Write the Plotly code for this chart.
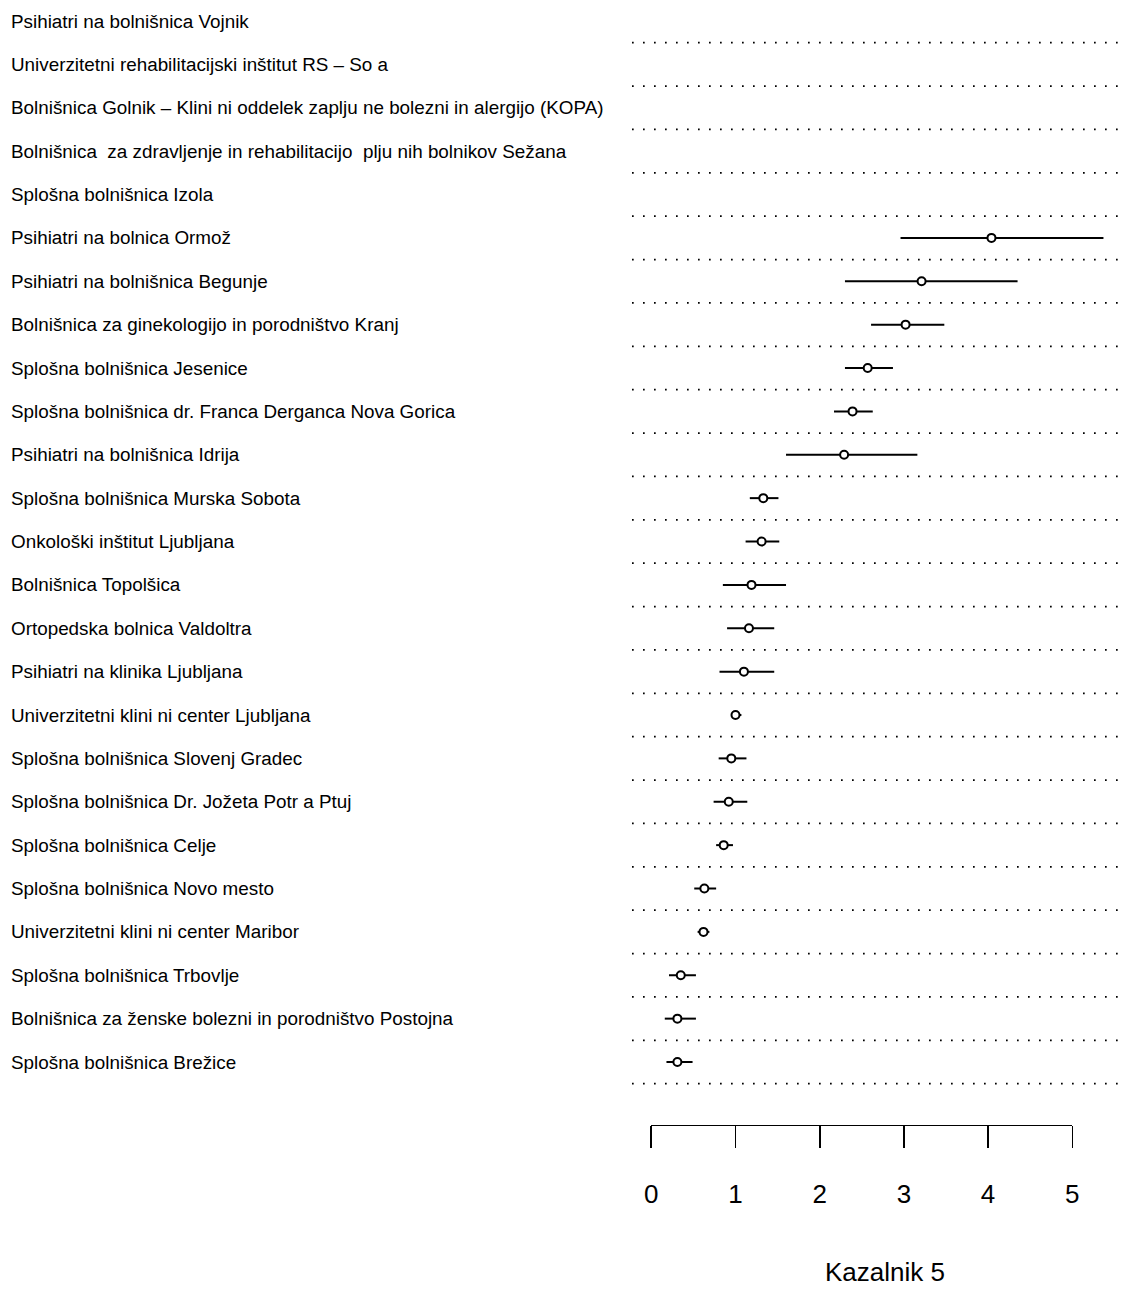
import plotly.graph_objects as go

# ---- data (top to bottom) ----
hospitals = [
    "Psihiatri na bolnišnica Vojnik",
    "Univerzitetni rehabilitacijski inštitut RS – So a",
    "Bolnišnica Golnik – Klini ni oddelek zaplju ne bolezni in alergijo (KOPA)",
    "Bolnišnica  za zdravljenje in rehabilitacijo  plju nih bolnikov Sežana",
    "Splošna bolnišnica Izola",
    "Psihiatri na bolnica Ormož",
    "Psihiatri na bolnišnica Begunje",
    "Bolnišnica za ginekologijo in porodništvo Kranj",
    "Splošna bolnišnica Jesenice",
    "Splošna bolnišnica dr. Franca Derganca Nova Gorica",
    "Psihiatri na bolnišnica Idrija",
    "Splošna bolnišnica Murska Sobota",
    "Onkološki inštitut Ljubljana",
    "Bolnišnica Topolšica",
    "Ortopedska bolnica Valdoltra",
    "Psihiatri na klinika Ljubljana",
    "Univerzitetni klini ni center Ljubljana",
    "Splošna bolnišnica Slovenj Gradec",
    "Splošna bolnišnica Dr. Jožeta Potr a Ptuj",
    "Splošna bolnišnica Celje",
    "Splošna bolnišnica Novo mesto",
    "Univerzitetni klini ni center Maribor",
    "Splošna bolnišnica Trbovlje",
    "Bolnišnica za ženske bolezni in porodništvo Postojna",
    "Splošna bolnišnica Brežice",
]
estimate = [None, None, None, None, None,
            4.04, 3.21, 3.02, 2.57, 2.39, 2.29, 1.33, 1.31, 1.19, 1.16, 1.10,
            1.00, 0.95, 0.92, 0.86, 0.63, 0.62, 0.35, 0.31, 0.31]
lower = [None, None, None, None, None,
         2.96, 2.30, 2.61, 2.30, 2.17, 1.60, 1.17, 1.12, 0.85, 0.90, 0.81,
         0.95, 0.80, 0.74, 0.77, 0.51, 0.55, 0.21, 0.16, 0.18]
upper = [None, None, None, None, None,
         5.37, 4.35, 3.48, 2.87, 2.63, 3.16, 1.51, 1.52, 1.60, 1.46, 1.46,
         1.07, 1.13, 1.14, 0.97, 0.77, 0.69, 0.53, 0.53, 0.49]
tick_values = [0, 1, 2, 3, 4, 5]
x_title = "Kazalnik 5"

# ---- layout geometry (page pixels; body margin removed below) ----
W, H = 1127, 1292
L = 632
plot_w = W - L
px_per_unit = 84.2
x0_px = 651.3
row_px = 43.375
first_row_px = 21

n = len(hospitals)
rows = list(range(n, 0, -1))  # top row has highest value

xmin = -(x0_px - L) / px_per_unit
xmax = (W - x0_px) / px_per_unit
ytop = n + first_row_px / row_px
ybot = n - (H - first_row_px) / row_px

FONT = "Liberation Sans, Arial, sans-serif"

fig = go.Figure()

ys, xs, ep, em = [], [], [], []
for r, e, lo, hi in zip(rows, estimate, lower, upper):
    if e is None:
        continue
    ys.append(r)
    xs.append(e)
    ep.append(hi - e)
    em.append(e - lo)

fig.add_trace(go.Scatter(
    x=xs, y=ys, mode="markers",
    marker=dict(symbol="circle", size=8, color="white", line=dict(width=2, color="black")),
    error_x=dict(type="data", array=ep, arrayminus=em, symmetric=False,
                 width=0, thickness=2, color="black"),
    showlegend=False, hoverinfo="skip",
))

# dummy trace so the display axis (x2) gets drawn
fig.add_trace(go.Scatter(x=[None], y=[None], xaxis="x2", yaxis="y",
                         showlegend=False, hoverinfo="skip"))

shapes = []
for r in rows:
    shapes.append(dict(type="line", xref="paper", yref="y", x0=0, x1=1,
                       y0=r - 0.5, y1=r - 0.5, layer="below",
                       line=dict(color="black", width=1.7, dash="1.7px,9.3px")))

annotations = []
for r, name in zip(rows, hospitals):
    annotations.append(dict(text=name, xref="paper", yref="y",
                            x=(9 - L) / plot_w, y=r, xanchor="left", yanchor="middle",
                            showarrow=False,
                            font=dict(family=FONT, size=18.85, color="black")))
annotations.append(dict(text=x_title, xref="paper", yref="paper",
                        x=(885 - L) / plot_w, y=1 - 1272 / H,
                        xanchor="center", yanchor="middle", showarrow=False,
                        font=dict(family=FONT, size=26, color="black")))

axis_y_px = 1124.7
fig.update_layout(
    width=W, height=H,
    margin=dict(l=L, r=0, t=0, b=0, pad=0, autoexpand=False),
    paper_bgcolor="white", plot_bgcolor="rgba(0,0,0,0)",
    showlegend=False,
    xaxis=dict(range=[xmin, xmax], visible=False, domain=[0, 1]),
    xaxis2=dict(range=[0, 5], domain=[(x0_px - L) / plot_w, (x0_px + 5 * px_per_unit - L) / plot_w],
                anchor="free", position=1 - axis_y_px / H, side="bottom",
                showline=True, linecolor="black", linewidth=1.6,
                ticks="outside", ticklen=22, tickwidth=1.6, tickcolor="black",
                tickvals=tick_values, ticktext=[str(v) for v in tick_values],
                tickfont=dict(family=FONT, size=26, color="black"),
                ticklabelstandoff=23, automargin=False,
                showgrid=False, zeroline=False, fixedrange=True),
    yaxis=dict(range=[ybot, ytop], visible=False, domain=[0, 1]),
    shapes=shapes,
    annotations=annotations,
    font=dict(family=FONT, color="black"),
)

fig.write_html(
    "out.html",
    config={"displayModeBar": False, "staticPlot": True},
    post_script="document.body.style.margin='0';document.body.style.overflow='hidden';",
)
